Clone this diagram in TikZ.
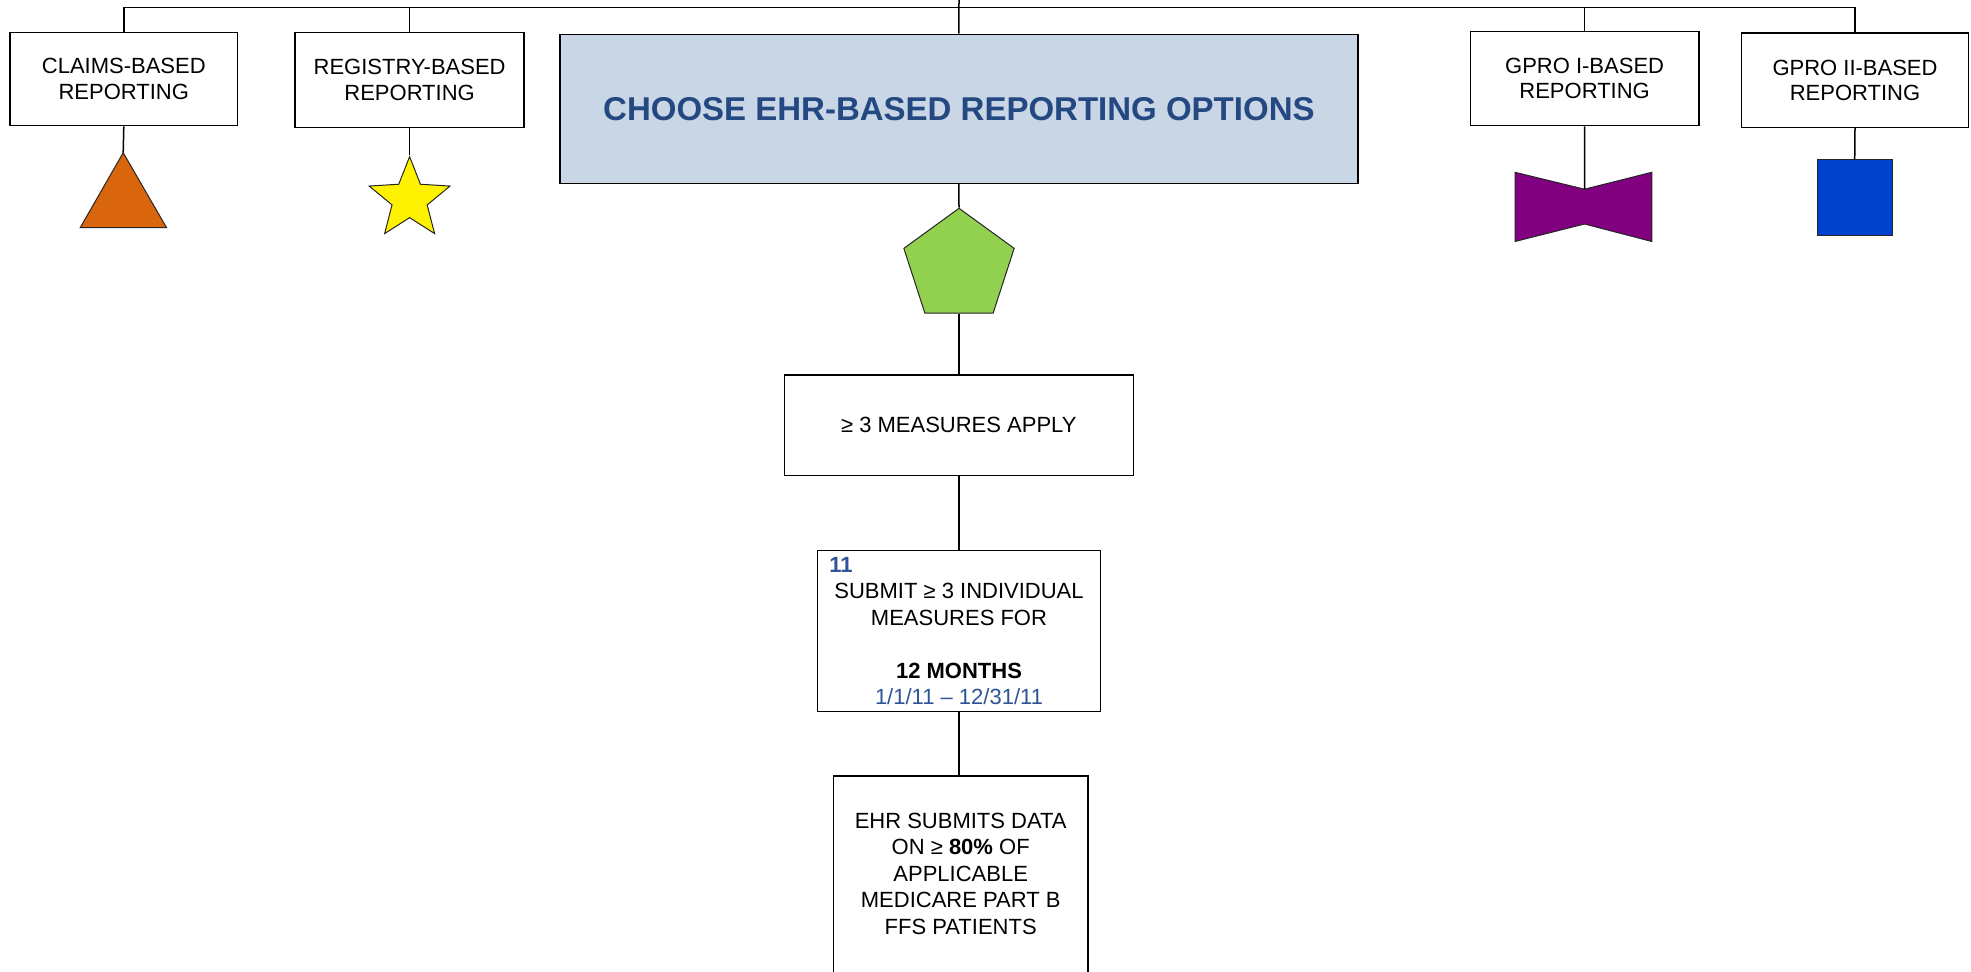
\documentclass[tikz,border=0pt]{standalone}
\usepackage{fontspec}
\setmainfont{Liberation Sans}
\usetikzlibrary{shapes.geometric}

\definecolor{chooseblue}{RGB}{201,214,229}
\definecolor{titleblue}{RGB}{36,72,130}
\definecolor{numblue}{RGB}{47,84,150}
\definecolor{triorange}{RGB}{217,102,12}
\definecolor{pentgreen}{RGB}{146,208,80}
\definecolor{bowpurple}{RGB}{128,0,128}
\definecolor{sqblue}{RGB}{0,66,204}

\begin{document}
\begin{tikzpicture}[x=0.5pt,y=-0.5pt,
    box/.style={draw,line width=0.75pt,inner sep=0pt,align=center,font=\fontsize{11}{13.2}\selectfont},
    topbox/.style={box,font=\fontsize{11}{12.6}\selectfont},
    conn/.style={line width=0.75pt},
    symb/.style={draw=black!85,line width=0.5pt}]
    \useasboundingbox (0,0) rectangle (1971,972);

    \node[topbox,minimum width=113.8pt,minimum height=46.7pt] (claims) at (123.8,79) {CLAIMS-BASED\\REPORTING};
    \node[topbox,minimum width=114.6pt,minimum height=47.7pt] (registry) at (409.6,80) {REGISTRY-BASED\\REPORTING};
    \node[box,fill=chooseblue,minimum width=399pt,minimum height=74.5pt,text=titleblue,font=\fontsize{16.5}{19}\selectfont\bfseries] (choose) at (958.9,108.8) {CHOOSE EHR-BASED REPORTING OPTIONS};
    \node[topbox,minimum width=114.2pt,minimum height=47.2pt] (gproone) at (1584.6,78.5) {GPRO I-BASED\\REPORTING};
    \node[topbox,minimum width=113.6pt,minimum height=47.2pt] (gprotwo) at (1855,80.2) {GPRO II-BASED\\REPORTING};

    \node[box,minimum width=174.5pt,minimum height=50.4pt] (measures) at (958.8,425.3) {≥ 3 MEASURES APPLY};
    \node[box,minimum width=141.7pt,minimum height=80.3pt] (submit) at (959,631)
        {\makebox[129.7pt][l]{\textcolor{numblue}{\bfseries 11}}\\SUBMIT ≥ 3 INDIVIDUAL\\MEASURES FOR\\[13.2pt]\textbf{12 MONTHS}\\\textcolor{numblue}{1/1/11 – 12/31/11}};
    \node[box,minimum width=127.4pt,minimum height=110pt,text depth=12pt,anchor=north,font=\fontsize{11}{13.25}\selectfont] (ehr) at (960.7,775)
        {EHR SUBMITS DATA\\ON ≥ \textbf{80\%} OF\\APPLICABLE\\MEDICARE PART B\\FFS PATIENTS};

    \coordinate (tri) at (123.2,152.7);
    \filldraw[symb,fill=triorange] (tri) -- (166.6,227.7) -- (80.2,227.7) -- cycle;
    \node[symb,fill=yellow,star,star points=5,star point ratio=2.3,minimum size=42.5pt,inner sep=0pt] (star) at (409.6,199.2) {};
    \node[symb,fill=pentgreen,regular polygon,regular polygon sides=5,minimum size=58pt,inner sep=0pt] (pent) at (959,266.3) {};
    \coordinate (bow) at (1584.5,189.2);
    \filldraw[symb,fill=bowpurple] (1515,172.3) -- (bow) -- (1651.8,172.3) -- (1651.8,241.5) -- (1584.5,224) -- (1515,241.5) -- cycle;
    \node[symb,fill=sqblue,minimum width=37.3pt,minimum height=37.8pt,inner sep=0pt] (sq) at (1854.7,197.6) {};

    \coordinate (bus) at (959,7.4);
    \coordinate (top) at (959,0);
    \draw[conn] (claims.north) -- (claims.north |- bus) -- (gprotwo.north |- bus) -- (gprotwo.north);
    \draw[conn] (registry.north) -- (registry.north |- bus);
    \draw[conn] (gproone.north) -- (gproone.north |- bus);
    \draw[conn] (choose.north) -- (top);

    \draw[conn] (claims.south) -- (tri);
    \draw[conn] (registry.south) -- (star.north);
    \draw[conn] (choose.south) -- (pent.north);
    \draw[conn] (gproone.south) -- (bow);
    \draw[conn] (gprotwo.south) -- (sq.north);
    \draw[conn] (pent.south) -- (pent.south |- measures.north);
    \draw[conn] (measures.south) -- (measures.south |- submit.north);
    \draw[conn] (submit.south) -- (submit.south |- ehr.north);
\end{tikzpicture}
\end{document}
